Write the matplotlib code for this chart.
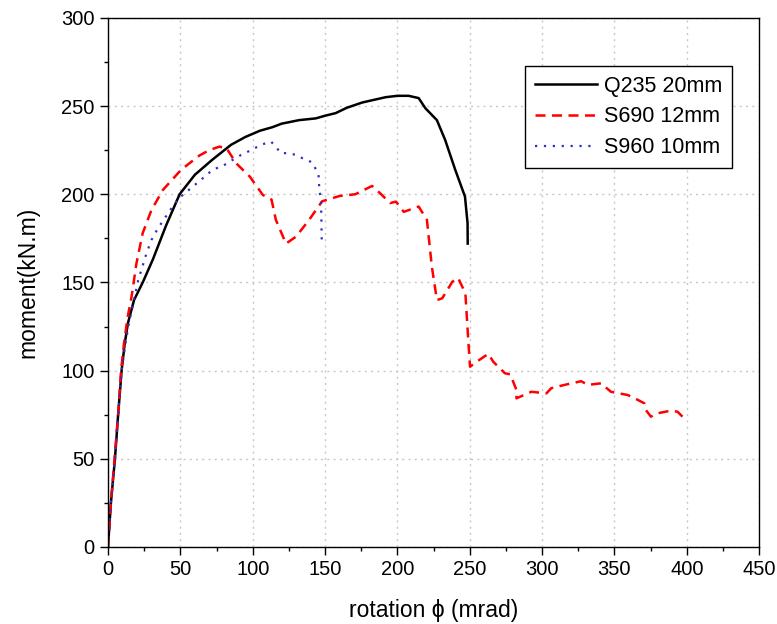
import matplotlib
matplotlib.use("Agg")
import matplotlib.pyplot as plt
from matplotlib.ticker import MultipleLocator

plt.rcParams['font.family'] = ['Liberation Sans', 'DejaVu Sans']

q235_x = [0, 2, 4.8, 7, 9.4, 11.5, 13.8, 18, 24, 31, 40, 49.5, 60, 72, 85, 95, 105,
          113.6, 120, 132, 143.6, 150, 157.4, 165, 175.7, 191.8, 200, 207.8, 214.7,
          219.3, 227.3, 233, 240, 246.7, 248.5, 248.6]
q235_y = [0, 25, 50, 75, 100, 115, 127, 140, 150, 163, 182, 200, 211, 219.5, 228, 232.5,
          236, 238, 240, 242, 243, 244.5, 246, 249, 252, 255, 255.8, 255.8, 254.5,
          248.8, 242, 230.8, 213.8, 198.7, 183.6, 172]

s690_x = [0, 2, 4.5, 7, 9, 11, 13.5, 16.3, 19.7, 24, 30, 38, 50.7, 63.3, 70, 77, 82,
          88.5, 98, 107, 113, 116, 123, 130, 139, 148, 160, 171, 182.5, 188, 195, 199,
          204.4, 214.7, 220.4, 223.8, 227.3, 231, 238, 242, 247, 249, 250.2, 254.7,
          262.8, 266.3, 274.3, 278, 282.3, 282.3, 292.6, 303, 306.3, 315.5, 327, 331.6,
          340.7, 347.6, 359, 362.6, 370.6, 371.7, 375.2, 379.8, 389, 393.6, 397]
s690_y = [0, 25, 50, 75, 100, 115, 130, 142, 161, 178, 191, 202.5, 214, 222, 225, 227,
          226, 217.6, 210, 199.6, 197, 185.5, 172, 176, 185.5, 196, 199, 200, 204.7,
          200.6, 195, 195.8, 190, 193, 185.5, 159, 140, 141, 150.4, 152.5, 143.8, 117,
          102.2, 105, 109.5, 105, 98.5, 97.9, 89, 84.3, 88, 87.1, 90, 91.9, 94, 91.9,
          92.8, 88, 86.2, 84.9, 81.5, 77.7, 73.9, 75.8, 77.3, 76.7, 73.9]

s960_x = [0, 2, 4.8, 7, 9.4, 12, 14.5, 20.9, 26.6, 30, 34.5, 39.2, 43.8, 48.9, 55.2, 64,
          72.5, 79.3, 86.2, 92, 98.9, 105.8, 112.6, 115.9, 119.4, 124.7, 129.8, 134.4,
          141.3, 145.5, 146, 147.2, 147.5, 147.7]
s960_y = [0, 25, 50, 75, 100, 115, 127, 151.4, 166.5, 174, 180.7, 186.4, 192, 197.7, 202,
          208, 214, 216, 219.5, 222.3, 225, 228, 229.9, 227, 223.3, 223.3, 222.3, 220.4,
          218, 211, 203.4, 195.8, 185, 174]

labels = ['Q235 20mm', 'S690 12mm', 'S960 10mm']

fig = plt.figure(figsize=(7.77, 6.24), dpi=100)
ax = fig.add_axes([0.139, 0.1234, 0.838, 0.848])

ax.plot(q235_x, q235_y, color='black', lw=1.8, label=labels[0])
ax.plot(s690_x, s690_y, color='#ff0000', lw=1.8, dashes=(4, 2.6), label=labels[1])
ax.plot(s960_x, s960_y, color='#3030c0', lw=1.6, dashes=(1, 3), label=labels[2])

ax.set_xlim(0, 450)
ax.set_ylim(0, 300)
ax.xaxis.set_major_locator(MultipleLocator(50))
ax.xaxis.set_minor_locator(MultipleLocator(25))
ax.yaxis.set_major_locator(MultipleLocator(50))
ax.yaxis.set_minor_locator(MultipleLocator(25))
ax.tick_params(which='major', direction='out', length=6, width=1, labelsize=14.5)
ax.tick_params(which='minor', direction='out', length=3, width=1)
ax.grid(True, which='major', color='#c8c8c8', linestyle=(0, (1.5, 3)), lw=1)
for s in ax.spines.values():
    s.set_linewidth(1)

ax.set_xlabel('rotation ϕ (mrad)', fontsize=16.5, labelpad=14)
ax.set_ylabel('moment(kN.m)', fontsize=16.5, labelpad=16)

leg = ax.legend(loc='upper right', bbox_to_anchor=(0.958, 0.909), fontsize=15.5,
                frameon=True, fancybox=False, edgecolor='black', framealpha=1,
                handlelength=2.9, borderpad=0.45, labelspacing=0.45, handletextpad=0.3,
                borderaxespad=0)
leg.get_frame().set_linewidth(1)

fig.savefig('out.png', dpi=100)
